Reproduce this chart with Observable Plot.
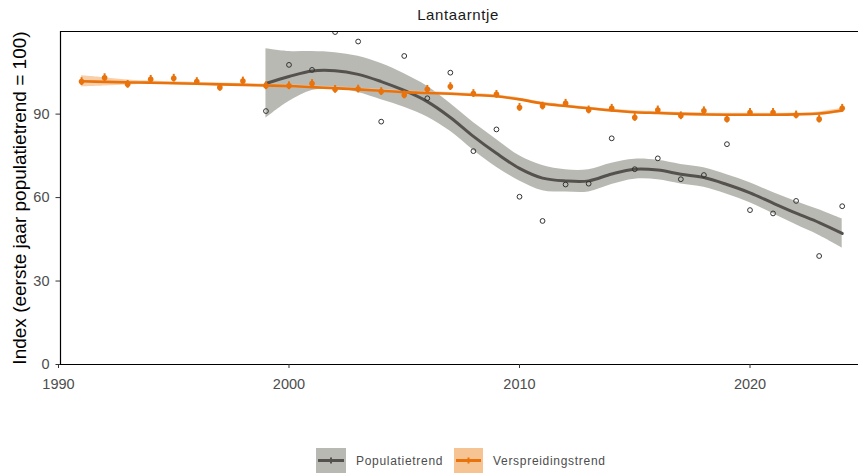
<!DOCTYPE html>
<html>
<head>
<meta charset="utf-8">
<script src="https://cdn.jsdelivr.net/npm/d3@7"></script>
<script src="https://cdn.jsdelivr.net/npm/@observablehq/plot@0.6"></script>
<style>
  html, body { margin: 0; padding: 0; background: #fff; width: 858px; height: 474px; overflow: hidden; font-family: "Liberation Sans", Arial, sans-serif; }
  #title { position: relative; height: 26px; }
  #title span { position: absolute; left: 458px; top: 6px; transform: translateX(-50%); font-size: 15px; letter-spacing: 0.6px; color: #1a1a1a; white-space: nowrap; }
  #chart svg { overflow: visible; display: block; }
  #legend { position: relative; height: 38px; }
  .item { position: absolute; top: 12px; display: flex; align-items: center; }
  .item span { font-size: 12px; letter-spacing: 0.7px; color: #4d4d4d; margin-left: 10px; white-space: nowrap; }
</style>
</head>
<body>
<div id="title"><span>Lantaarntje</span></div>
<div id="chart"></div>
<div id="legend">
  <div class="item" style="left:316px">
    <svg width="30" height="25"><rect width="30" height="25" fill="#b9b9b4"/><line x1="2" x2="28" y1="12.5" y2="12.5" stroke="#55524d" stroke-width="3"/><line x1="15" x2="15" y1="9.5" y2="15.5" stroke="#55524d" stroke-width="2"/></svg>
    <span>Populatietrend</span>
  </div>
  <div class="item" style="left:454px">
    <svg width="29" height="25"><rect width="29" height="25" fill="#f6c393"/><line x1="2" x2="27" y1="12.5" y2="12.5" stroke="#e8730d" stroke-width="3"/><line x1="14.5" x2="14.5" y1="9.5" y2="15.5" stroke="#e8730d" stroke-width="2"/></svg>
    <span>Verspreidingstrend</span>
  </div>
</div>
<script>
const yLabel = "Index (eerste jaar populatietrend = 100)";
const xTicks = [1990, 2000, 2010, 2020];
const yTicks = [0, 30, 60, 90];

const verspreidingYears = [1991,1992,1993,1994,1995,1996,1997,1998,1999,2000,2001,2002,2003,2004,2005,2006,2007,2008,2009,2010,2011,2012,2013,2014,2015,2016,2017,2018,2019,2020,2021,2022,2023,2024];
const verspreidingIndex = [101.7,103.1,100.7,102.5,102.9,101.7,99.6,101.9,100.2,100.2,101.0,98.9,99.0,98.1,96.9,98.9,99.9,97.4,97.1,92.4,92.9,93.9,91.5,92.1,88.8,91.5,89.4,91.2,88.2,90.6,90.6,89.7,88.2,92.1];
const verspreidingTrend = [101.8,101.6,101.4,101.3,101.1,100.9,100.7,100.5,100.3,100.1,99.7,99.3,98.9,98.4,97.9,97.6,97.3,96.9,96.4,95.3,93.8,92.9,92.1,91.3,90.7,90.4,90.1,89.9,89.8,89.8,89.8,89.9,90.2,91.3];
const verspreidingHalf = [2.0,1.5,0.9,0.6,0.5,0.5,0.5,0.5,0.5,0.5,0.5,0.5,0.5,0.5,0.5,0.5,0.5,0.5,0.5,0.5,0.5,0.5,0.5,0.5,0.5,0.5,0.5,0.5,0.5,0.5,0.5,0.5,0.6,0.8];

const populatieYears = [1999,2000,2001,2002,2003,2004,2005,2006,2007,2008,2009,2010,2011,2012,2013,2014,2015,2016,2017,2018,2019,2020,2021,2022,2023,2024];
const populatieIndex = [91.1,107.7,105.9,119.5,116.1,87.3,110.9,95.7,104.9,76.7,84.5,60.3,51.6,64.7,65.0,81.3,70.2,74.1,66.6,68.1,79.2,55.5,54.3,58.8,39.0,56.9];
const populatieTrend = [101.0,103.5,105.5,105.6,104.3,101.7,98.5,94.5,88.8,82.0,75.9,70.5,67.0,66.0,66.0,68.5,70.2,69.9,68.4,67.2,64.7,61.7,58.0,54.4,51.0,47.1];
const populatieHalf = [12.5,9.0,7.0,6.5,6.5,6.5,6.0,5.5,5.0,5.0,5.0,4.5,4.5,4.0,4.0,3.8,3.6,3.5,3.5,3.5,3.5,3.6,3.8,4.2,4.6,5.2];

const vers = verspreidingYears.map((year, i) => ({year, index: verspreidingIndex[i], trend: verspreidingTrend[i], lo: verspreidingTrend[i] - verspreidingHalf[i], hi: verspreidingTrend[i] + verspreidingHalf[i]}));
const pop = populatieYears.map((year, i) => ({year, index: populatieIndex[i], trend: populatieTrend[i], lo: populatieTrend[i] - populatieHalf[i], hi: populatieTrend[i] + populatieHalf[i]}));

const grey = "#55524d", ribbon = "#b9b9b4", orange = "#e8730d", orangeLight = "#f6c393";

const chart = Plot.plot({
  width: 858,
  height: 410,
  marginLeft: 60,
  marginRight: 0,
  marginTop: 5,
  marginBottom: 72,
  style: {fontFamily: "Liberation Sans, Arial, sans-serif", background: "#fff", overflow: "visible"},
  x: {domain: [1990.087, 2024.707], label: null},
  y: {domain: [0, 119.7], label: null},
  marks: [
    Plot.areaY(pop, {x: "year", y1: "lo", y2: "hi", fill: ribbon, curve: "catmull-rom"}),
    Plot.areaY(vers, {x: "year", y1: "lo", y2: "hi", fill: orangeLight, fillOpacity: 0.8, curve: "catmull-rom"}),
    Plot.lineY(pop, {x: "year", y: "trend", stroke: grey, strokeWidth: 3, curve: "catmull-rom"}),
    Plot.lineY(vers, {x: "year", y: "trend", stroke: orange, strokeWidth: 2.6, curve: "catmull-rom"}),
    Plot.ruleX(vers, {x: "year", y1: d => d.index - 1.4, y2: d => d.index + 1.4, stroke: orange, strokeWidth: 2}),
    Plot.dot(vers, {x: "year", y: "index", r: 2.8, fill: orange, stroke: "none"}),
    Plot.dot(pop, {x: "year", y: "index", r: 2.4, stroke: "#333", strokeWidth: 1, fill: "none", clip: true}),
    Plot.ruleY([119.7], {stroke: "#000", strokeWidth: 1.2}),
    Plot.ruleY([0], {stroke: "#000", strokeWidth: 1.2}),
    Plot.ruleX([1990.087], {stroke: "#000", strokeWidth: 1.2}),
    Plot.axisX({ticks: xTicks, tickFormat: d3.format("d"), tickSize: 4, tickPadding: 10, fontSize: 14.5, color: "#4d4d4d", label: null, stroke: "#333", style: {letterSpacing: "1.3px"}}),
    Plot.axisY({ticks: yTicks, tickSize: 4.5, tickPadding: 6.5, fontSize: 14.5, color: "#4d4d4d", label: null, stroke: "#333", style: {letterSpacing: "1.3px"}}),
    Plot.text([yLabel], {frameAnchor: "left", textAnchor: "middle", rotate: -90, dx: -41, fontSize: 19, fill: "#000", style: {letterSpacing: "1.5px"}})
  ]
});
document.getElementById("chart").appendChild(chart);
</script>
</body>
</html>
